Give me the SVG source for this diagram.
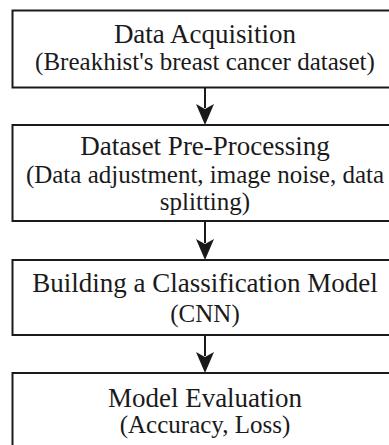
<svg xmlns="http://www.w3.org/2000/svg" width="389" height="445" viewBox="0 0 389 445">
<style>
.box{fill:#fff;stroke:#1a1a1a;stroke-width:2}
.t{font-family:"Liberation Serif","Times New Roman",serif;fill:#1a1a1a;text-anchor:middle}
.h{font-size:27px}
.s{font-size:25px}
.edge{stroke:#1a1a1a;stroke-width:2;fill:none}
</style>
<defs>
<marker id="arr" markerUnits="userSpaceOnUse" markerWidth="20" markerHeight="22" refX="9" refY="20" orient="auto-start-reverse" viewBox="0 0 18 22">
<path d="M0,0 L9,6 L18,0 L9,20 Z" fill="#1a1a1a" transform="rotate(0)"/>
</marker>
</defs>
<rect width="389" height="445" fill="#fff"/>
<g id="connectors">
<line class="edge" x1="205" y1="88" x2="205" y2="108"/>
<path d="M196,104 L205,109 L214,104 L205,125 Z" fill="#1a1a1a"/>
<line class="edge" x1="205" y1="222" x2="205" y2="243"/>
<path d="M196,239 L205,244 L214,239 L205,260 Z" fill="#1a1a1a"/>
<line class="edge" x1="205" y1="336" x2="205" y2="356"/>
<path d="M196,352 L205,357 L214,352 L205,373 Z" fill="#1a1a1a"/>
</g>
<g id="node1">
<rect class="box" x="12.5" y="10.5" width="400" height="77"/>
<text class="t h" x="205" y="43">Data Acquisition</text>
<text class="t s" x="205" y="70">(Breakhist's breast cancer dataset)</text>
</g>
<g id="node2">
<rect class="box" x="12.5" y="125" width="400" height="96"/>
<text class="t h" x="205" y="155">Dataset Pre-Processing</text>
<text class="t s" x="205" y="183">(Data adjustment, image noise, data</text>
<text class="t s" x="205" y="210">splitting)</text>
</g>
<g id="node3">
<rect class="box" x="12.5" y="260" width="400" height="75"/>
<text class="t h" x="205" y="292">Building a Classification Model</text>
<text class="t s" x="205" y="322">(CNN)</text>
</g>
<g id="node4">
<rect class="box" x="12.5" y="373" width="400" height="90"/>
<text class="t h" x="205" y="407">Model Evaluation</text>
<text class="t s" x="205" y="433">(Accuracy, Loss)</text>
</g>
</svg>
